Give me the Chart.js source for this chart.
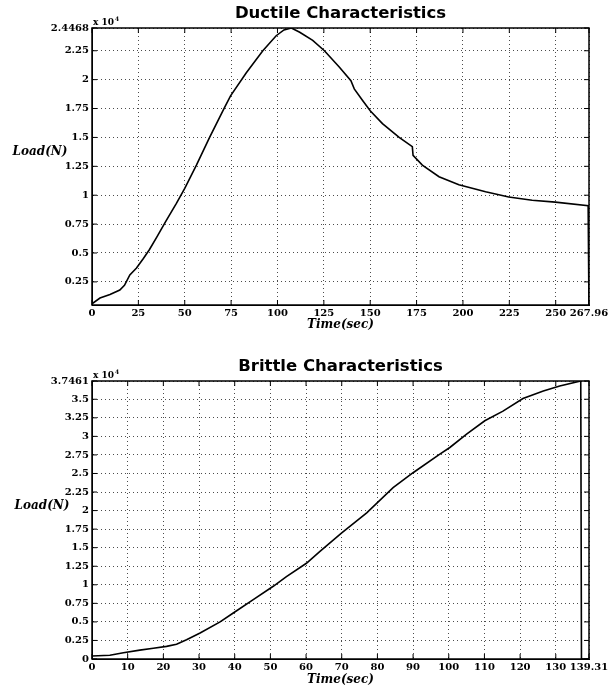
<!DOCTYPE html>
<html>
<head>
<meta charset="utf-8">
<script src="https://cdn.jsdelivr.net/npm/chart.js@4.4.1/dist/chart.umd.min.js"></script>
<style>
  body { margin: 0; background: #fff; }
  #wrap { position: relative; width: 616px; height: 688px; }
  canvas { position: absolute; left: 0; }
  #ductile { top: 0; }
  #brittle { top: 344px; }
</style>
</head>
<body>
<div id="wrap">
  <canvas id="ductile" width="616" height="344"></canvas>
  <canvas id="brittle" width="616" height="344"></canvas>
</div>
<script>
// Ductile test: time (s) and load (x 10^4 N)
const ductileTime = [0, 4.3, 9.7, 15, 17.5, 20.4, 24, 27.6, 31, 35, 40, 45.5, 50, 56.3, 63.4, 71.5, 74.7,
  83.2, 92.1, 99.3, 103.5, 107.5, 112, 119, 125.3, 133.3, 139.6, 141.4, 145.9, 150, 156.6, 165.6, 172.7,
  173.1, 178.1, 187.1, 197.8, 212.2, 224.7, 237.3, 249.8, 267.5, 267.96];
const ductileLoad = [0.06, 0.11, 0.14, 0.18, 0.22, 0.31, 0.37, 0.45, 0.53, 0.64, 0.78, 0.93, 1.06, 1.26, 1.50, 1.76, 1.86,
  2.06, 2.25, 2.38, 2.43, 2.4468, 2.41, 2.34, 2.25, 2.11, 1.99, 1.92, 1.82, 1.73, 1.62, 1.50, 1.42,
  1.345, 1.26, 1.16, 1.09, 1.03, 0.985, 0.957, 0.94, 0.91, 0];
const ductileXTicks = [0, 25, 50, 75, 100, 125, 150, 175, 200, 225, 250, 267.96];
const ductileYTicks = [0.25, 0.5, 0.75, 1, 1.25, 1.5, 1.75, 2, 2.25, 2.4468];

// Brittle test
const brittleTime = [0, 5, 8.8, 13.4, 17.2, 20.9, 23.7, 26.5, 30.3, 35.9, 39.6, 45.2, 50.8, 54.5, 60.1, 63.9,
  70, 77, 84.4, 90, 97.5, 100.3, 105, 110.1, 115.2, 120.8, 126.5, 131.1, 137.0, 137.2, 139.31];
const brittleLoad = [0.04, 0.05, 0.085, 0.12, 0.145, 0.17, 0.20, 0.26, 0.35, 0.50, 0.62, 0.80, 0.98, 1.11, 1.29, 1.45,
  1.70, 1.97, 2.31, 2.51, 2.76, 2.85, 3.03, 3.21, 3.34, 3.51, 3.61, 3.68, 3.7461, 0, 0];
const brittleXTicks = [0, 10, 20, 30, 40, 50, 60, 70, 80, 90, 100, 110, 120, 130, 139.31];
const brittleYTicks = [0, 0.25, 0.5, 0.75, 1, 1.25, 1.5, 1.75, 2, 2.25, 2.5, 2.75, 3, 3.25, 3.5, 3.7461];

const tickFont = { family: '"DejaVu Serif"', size: 10, weight: 'bold' };

// box, inner tick marks and the MATLAB-style labels
const matlabFrame = {
  id: 'matlabFrame',
  afterDraw(chart, args, opts) {
    const { ctx, chartArea: a, scales } = chart;
    ctx.save();
    ctx.strokeStyle = '#000';
    ctx.lineWidth = 1.5;
    ctx.strokeRect(a.left, a.top, a.right - a.left, a.bottom - a.top);

    ctx.lineWidth = 1;
    ctx.beginPath();
    scales.y.ticks.forEach(t => {
      const y = scales.y.getPixelForValue(t.value);
      ctx.moveTo(a.left, y); ctx.lineTo(a.left + 5, y);
      ctx.moveTo(a.right - 5, y); ctx.lineTo(a.right, y);
    });
    scales.x.ticks.forEach(t => {
      const x = scales.x.getPixelForValue(t.value);
      ctx.moveTo(x, a.bottom); ctx.lineTo(x, a.bottom - 5);
      ctx.moveTo(x, a.top); ctx.lineTo(x, a.top + 5);
    });
    ctx.stroke();

    ctx.fillStyle = '#000';
    ctx.textBaseline = 'middle';
    ctx.textAlign = 'center';
    ctx.font = 'bold 16.5px "DejaVu Sans"';
    ctx.fillText(opts.title, (a.left + a.right) / 2, opts.titleY);

    ctx.font = 'bold italic 12px "DejaVu Serif"';
    ctx.fillText('Load(N)', opts.ylabelX, opts.ylabelY);
    ctx.fillText('Time(sec)', (a.left + a.right) / 2, opts.xlabelY);

    ctx.textAlign = 'left';
    ctx.font = 'bold 9px "DejaVu Serif"';
    ctx.fillText('x 10', a.left + 1, a.top - 5);
    const w = ctx.measureText('x 10').width;
    ctx.font = 'bold 6px "DejaVu Serif"';
    ctx.fillText('4', a.left + 2 + w, a.top - 9);
    ctx.restore();
  }
};

function makeChart(id, xs, ys, xTicks, yTicks, padTop, axisH, frameOpts) {
  const points = xs.map((x, i) => ({ x: x, y: ys[i] }));
  return new Chart(document.getElementById(id), {
    type: 'line',
    data: {
      datasets: [{
        data: points,
        borderColor: '#000',
        borderWidth: 1.6,
        pointRadius: 0,
        tension: 0,
        fill: false
      }]
    },
    options: {
      responsive: false,
      animation: false,
      layout: { padding: { top: padTop, right: 27, left: 0, bottom: 0 } },
      plugins: {
        legend: { display: false },
        tooltip: { enabled: false },
        matlabFrame: frameOpts
      },
      scales: {
        x: {
          type: 'linear',
          min: xTicks[0],
          max: xTicks[xTicks.length - 1],
          afterBuildTicks: s => { s.ticks = xTicks.map(v => ({ value: v })); },
          afterFit: s => { s.height = axisH; },
          ticks: {
            autoSkip: false, maxRotation: 0, padding: 2,
            color: '#000', font: tickFont,
            callback: v => String(v)
          },
          grid: { color: 'rgba(0,0,0,0.7)', lineWidth: 1, drawTicks: false },
          border: { display: true, color: '#000', width: 1, dash: [1, 3] }
        },
        y: {
          type: 'linear',
          min: yTicks[0] === 0 ? 0 : 0.05,
          max: yTicks[yTicks.length - 1],
          afterBuildTicks: s => { s.ticks = yTicks.map(v => ({ value: v })); },
          afterFit: s => { s.width = 92; },
          ticks: {
            autoSkip: false, padding: 3,
            color: '#000', font: tickFont,
            callback: v => String(v)
          },
          grid: { color: 'rgba(0,0,0,0.7)', lineWidth: 1, drawTicks: false },
          border: { display: true, color: '#000', width: 1, dash: [1, 3] }
        }
      }
    },
    plugins: [matlabFrame]
  });
}

makeChart('ductile', ductileTime, ductileLoad, ductileXTicks, ductileYTicks, 28, 39,
  { title: 'Ductile Characteristics', titleY: 14, ylabelX: 40, ylabelY: 152, xlabelY: 325 });
makeChart('brittle', brittleTime, brittleLoad, brittleXTicks, brittleYTicks, 37, 29,
  { title: 'Brittle Characteristics', titleY: 23, ylabelX: 42, ylabelY: 162, xlabelY: 336 });
</script>
</body>
</html>
